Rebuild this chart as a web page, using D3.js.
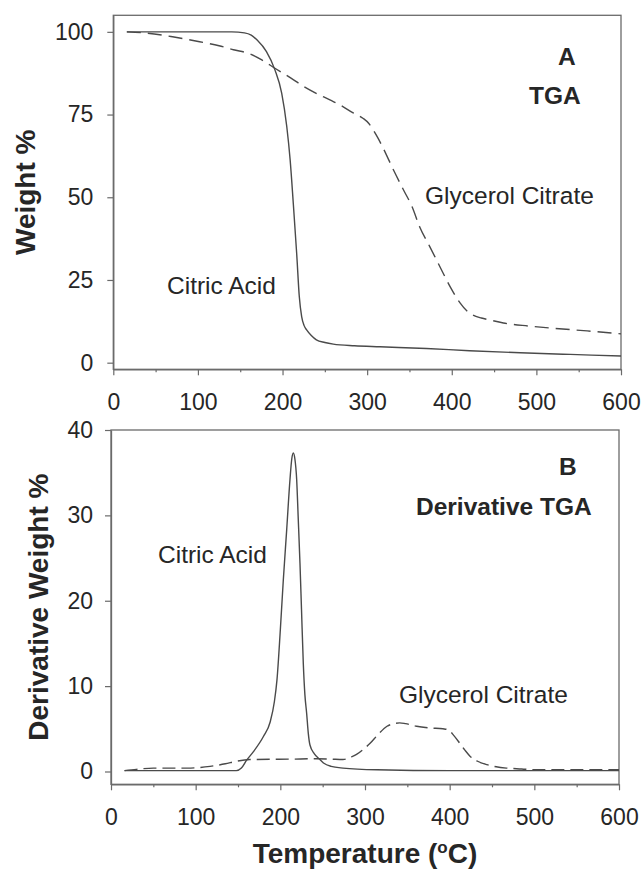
<!DOCTYPE html>
<html>
<head>
<meta charset="utf-8">
<script src="https://cdn.jsdelivr.net/npm/d3@7"></script>
<style>
  html, body { margin: 0; padding: 0; background: #fff; }
  svg { display: block; font-family: "Liberation Sans", Arial, sans-serif; }
</style>
</head>
<body>
<svg id="chart" width="643" height="872"></svg>
<script>
// TGA: [temperature, weight %]
var citricTGA = [[16,100],[60,100],[100,100],[140,100],[155,99.7],[163,99],[170,97.5],[181,94],[191,88.5],[199,81.5],[205,71.4],[209,61.3],[212.7,48.2],[216.7,33.1],[219.8,20],[222.6,13.9],[225.5,11.2],[228.5,9.9],[234,8.2],[240,6.9],[250,6.1],[260,5.6],[285,5.1],[315,4.8],[370,4.3],[421,3.6],[481,3.0],[540,2.5],[600,2.0]];
var glycerolTGA = [[16,100],[40,99.6],[70,98.5],[102,97],[125,95.8],[142,94.6],[161,93.4],[175,91.6],[191,89],[210,86],[225,83.5],[256,79.4],[268,77.9],[284,75.4],[295,73.9],[302,72.3],[307,70.4],[313,67.8],[319,64.8],[331,58.3],[343,52.2],[353,47.2],[362,41.1],[374,35.1],[386,29],[398,23],[410,18],[418,15.6],[425,14.4],[435,13.5],[445,12.9],[461,12.0],[490,11.1],[520,10.4],[560,9.6],[600,8.7]];

// derivative TGA: [temperature, derivative weight %]
var citricDTG = [[16,0.1],[60,0.1],[100,0.1],[148,0.1],[154,0.4],[160,1.3],[168,2.3],[180,4.1],[188,5.8],[193,8.2],[196,10.7],[200,16.6],[203.5,22.4],[207.5,28.3],[211.4,34.2],[213.5,36.6],[215.3,37.3],[217.2,36.6],[219.3,34.2],[221,30],[223.2,24.4],[225,19],[227.1,12.7],[229,9],[231.1,6.8],[233,4.5],[235,3.1],[240,2.1],[246.8,1.4],[251,1.0],[260,0.6],[274,0.4],[314,0.2],[400,0.1],[600,0.1]];
var glycerolDTG = [[16,0.1],[30,0.25],[50,0.4],[90,0.4],[117,0.6],[135,0.9],[148,1.2],[164,1.4],[215,1.45],[243,1.5],[260,1.45],[274,1.4],[284,1.7],[290,2.0],[298,2.6],[306,3.3],[316,4.4],[326,5.3],[334,5.6],[341,5.7],[348,5.6],[361,5.3],[377,5.1],[392,5.0],[398,4.9],[405,4.2],[412,3.3],[418,2.5],[424,1.8],[433,1.2],[444,0.8],[455,0.55],[467,0.4],[485,0.3],[503,0.2],[550,0.2],[600,0.2]];

var xTicks = [0, 100, 200, 300, 400, 500, 600];
var xMinor = [50, 150, 250, 350, 450, 550];
var yTicksA = [0, 25, 50, 75, 100];
var yTicksB = [0, 10, 20, 30, 40];

var axisCol = "#6a6a6a", lineCol = "#4a4a4a", textCol = "#262626";
var svg = d3.select("#chart");

function panel(opt) {
    var x = d3.scaleLinear().domain([0, 600]).range([opt.left, opt.right]);
    var y = d3.scaleLinear().domain(opt.yDomain).range([opt.bottom, opt.top]);
    var g = svg.append("g");

    // frame
    g.append("rect")
        .attr("x", opt.left).attr("y", opt.top)
        .attr("width", opt.right - opt.left).attr("height", opt.bottom - opt.top)
        .attr("fill", "none").attr("stroke", axisCol).attr("stroke-width", 1.3);

    // minor x ticks
    var xm = g.append("g").attr("transform", "translate(0," + opt.bottom + ")")
        .call(d3.axisBottom(x).tickValues(xMinor).tickSize(3).tickSizeOuter(0).tickFormat(""));
    xm.selectAll(".domain").remove();
    xm.selectAll(".tick line").attr("stroke", axisCol).attr("stroke-width", 1.2);

    var xa = g.append("g").attr("transform", "translate(0," + opt.bottom + ")")
        .call(d3.axisBottom(x).tickValues(xTicks).tickSize(6).tickSizeOuter(0).tickFormat(d3.format("d")));
    xa.selectAll(".domain").attr("stroke", axisCol).attr("stroke-width", 1.3);
    xa.selectAll(".tick line").attr("stroke", axisCol).attr("stroke-width", 1.2);
    xa.selectAll(".tick text").attr("y", opt.xLabelDy).attr("dy", 0)
        .attr("fill", textCol).style("font-size", "23px");

    var ya = g.append("g").attr("transform", "translate(" + opt.left + ",0)")
        .call(d3.axisLeft(y).tickValues(opt.yTicks).tickSize(6).tickSizeOuter(0).tickPadding(opt.yPad));
    ya.selectAll(".domain").attr("stroke", axisCol).attr("stroke-width", 1.3);
    ya.selectAll(".tick line").attr("stroke", axisCol).attr("stroke-width", 1.2);
    ya.selectAll(".tick text").attr("fill", textCol).style("font-size", "23px");

    var line = d3.line()
        .x(function(d) { return x(d[0]); })
        .y(function(d) { return y(d[1]); })
        .curve(d3.curveMonotoneX);

    g.append("path").datum(opt.dashed)
        .attr("d", line).attr("fill", "none")
        .attr("stroke", lineCol).attr("stroke-width", 1.4)
        .attr("stroke-dasharray", opt.dash);
    g.append("path").datum(opt.solid)
        .attr("d", line).attr("fill", "none")
        .attr("stroke", lineCol).attr("stroke-width", 1.4);

    g.append("text")
        .attr("transform", "translate(" + opt.titleX + "," + ((opt.top + opt.bottom) / 2) + ") rotate(-90)")
        .attr("text-anchor", "middle")
        .attr("fill", textCol).style("font-size", "28px").style("font-weight", "bold")
        .text(opt.yTitle);

    opt.labels.forEach(function(l) {
        g.append("text").attr("x", l.x).attr("y", l.y)
            .attr("fill", textCol)
            .style("font-size", "24.5px")
            .style("font-weight", l.bold ? "bold" : "normal")
            .text(l.text);
    });
}

panel({
    left: 113.3, right: 621, top: 15.3, bottom: 369.3,
    yDomain: [-2, 105], yTicks: yTicksA, yPad: 14,
    xLabelDy: 41, titleX: 35, yTitle: "Weight %",
    solid: citricTGA, dashed: glycerolTGA, dash: "14,7",
    labels: [
        {text: "A", x: 558, y: 65, bold: true},
        {text: "TGA", x: 529, y: 104, bold: true},
        {text: "Glycerol Citrate", x: 425, y: 204},
        {text: "Citric Acid", x: 167, y: 294}
    ]
});

panel({
    left: 111, right: 619, top: 430, bottom: 784.3,
    yDomain: [-1.5, 40], yTicks: yTicksB, yPad: 12,
    xLabelDy: 41, titleX: 48, yTitle: "Derivative Weight %",
    solid: citricDTG, dashed: glycerolDTG, dash: "13,6",
    labels: [
        {text: "B", x: 559, y: 475, bold: true},
        {text: "Derivative TGA", x: 416, y: 515, bold: true},
        {text: "Citric Acid", x: 158, y: 563},
        {text: "Glycerol Citrate", x: 399, y: 703}
    ]
});

// x-axis title
var xt = svg.append("text")
    .attr("x", 365).attr("y", 863)
    .attr("text-anchor", "middle")
    .attr("fill", textCol).style("font-size", "28px").style("font-weight", "bold");
xt.append("tspan").text("Temperature (");
xt.append("tspan").attr("dy", -10).style("font-size", "17px").text("o");
xt.append("tspan").attr("dy", 10).text("C)");
</script>
</body>
</html>
